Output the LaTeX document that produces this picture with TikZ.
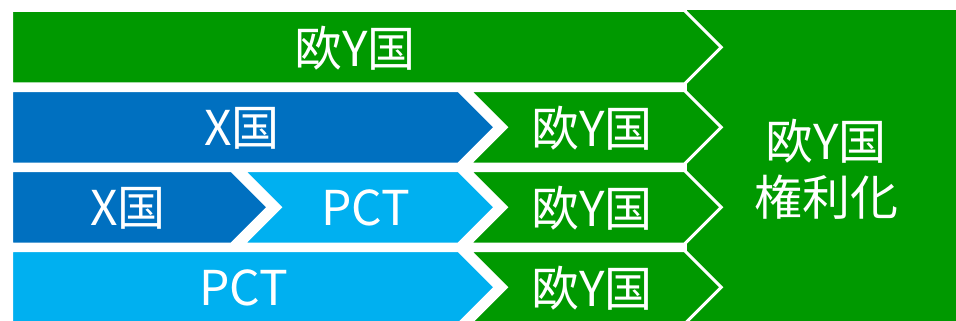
\documentclass[tikz,border=0pt]{standalone}
\usepackage{fontspec}
\setmainfont{Noto Sans CJK JP}
\definecolor{cgreen}{HTML}{009900}
\definecolor{cdblue}{HTML}{0070C0}
\definecolor{clblue}{HTML}{00B0F0}
\tikzset{
  chev/.style={draw=white, line width=3pt, line join=miter},
  lbl/.style={text=white, inner sep=0pt, anchor=center, font=\fontsize{48}{56}\selectfont},
}
\newcommand{\arrowbox}[5]{% color, x-left, x-right, top, notch(0/1)
  \pgfmathsetmacro{\hb}{#4+73.5}
  \pgfmathsetmacro{\cy}{#4+36.75}
  \pgfmathsetmacro{\tx}{#3+36.75}
  \pgfmathsetmacro{\nx}{#2+36.75*#5}
  \fill[#1, chev] (#2,#4) -- (#3,#4) -- (\tx,\cy) -- (#3,\hb) -- (#2,\hb) -- (\nx,\cy) -- cycle;
}
\begin{document}
\begin{tikzpicture}[x=1pt,y=-1pt]
\useasboundingbox (0,0) rectangle (956,321);
\fill[white] (0,0) rectangle (956,321);
\fill[cgreen] (687,10) rectangle (956,321);
% row 1
\arrowbox{cgreen}{11.5}{684.5}{10.5}{0}
% row 2
\arrowbox{cdblue}{11.5}{458.5}{90.5}{0}
\arrowbox{cgreen}{469.5}{684.5}{90.5}{1}
% row 3
\arrowbox{cdblue}{11.5}{231.5}{170.5}{0}
\arrowbox{clblue}{243.5}{458.5}{170.5}{1}
\arrowbox{cgreen}{469.5}{684.5}{170.5}{1}
% row 4
\arrowbox{clblue}{11.5}{458.5}{250.5}{0}
\arrowbox{cgreen}{469.5}{684.5}{250.5}{1}
% labels
\node[lbl] (r1) at (355,48) {欧Y国};
\node[lbl] (r2a) at (242,128) {X国};
\node[lbl] (r2b) at (592,128) {欧Y国};
\node[lbl] (r3a) at (128,208) {X国};
\node[lbl] (r3b) at (366,208) {PCT};
\node[lbl] (r3c) at (592,208) {欧Y国};
\node[lbl] (r4a) at (244,288) {PCT};
\node[lbl] (r4b) at (592,288) {欧Y国};
\node[lbl, align=center] (fin) at (826,169) {欧Y国\\権利化};
\end{tikzpicture}
\end{document}
